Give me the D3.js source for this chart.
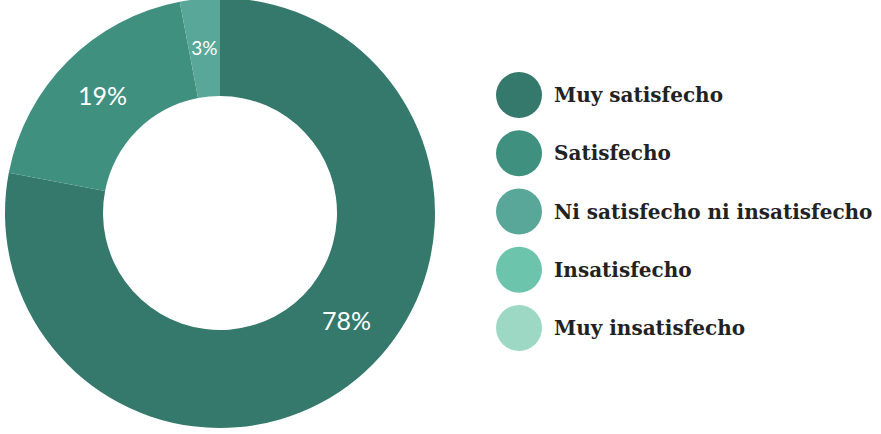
<!DOCTYPE html>
<html>
<head>
<meta charset="utf-8">
<script src="https://cdn.jsdelivr.net/npm/d3@7"></script>
<style>
  body { margin: 0; background: #fff; }
  .val-label { font-family: Lato, "Open Sans", sans-serif; fill: #fff; }
  .leg-label { font-family: "DejaVu Serif", serif; fill: #222; }
</style>
</head>
<body>
<script>
var categories = ['Muy satisfecho', 'Satisfecho', 'Ni satisfecho ni insatisfecho', 'Insatisfecho', 'Muy insatisfecho'];
var values = [78, 19, 3, 0, 0];
var colors = ['#34796b', '#40907f', '#58a798', '#6cc4ad', '#9dd8c5'];

var data = categories.map(function(c, i) {
  return {key: c, value: values[i], color: colors[i]};
});

var w = 881, h = 434;
var cx = 220, cy = 213;
var outerR = 215, innerR = 117;

var svg = d3.select("body").append("svg")
  .attr("width", w)
  .attr("height", h);

var pie = d3.pie()
  .sort(null)
  .value(function(d) { return d.value; });

var arc = d3.arc()
  .innerRadius(innerR)
  .outerRadius(outerR);

var g = svg.append("g")
  .attr("transform", "translate(" + cx + "," + cy + ")");

var slices = pie(data).filter(function(d) { return d.data.value > 0; });

g.selectAll("path")
  .data(slices)
  .enter()
  .append("path")
  .attr("d", arc)
  .attr("fill", function(d) { return d.data.color; });

// big slice: label sits a bit before the middle of the arc
g.selectAll(".val-label")
  .data(slices)
  .enter()
  .append("text")
  .classed("val-label", true)
  .attr("transform", function(d) {
    var a = d;
    if (d.endAngle - d.startAngle > Math.PI) {
      a = {startAngle: d.startAngle, endAngle: d.endAngle - 0.35};
    }
    return "translate(" + arc.centroid(a) + ")";
  })
  .attr("text-anchor", "middle")
  .attr("dy", "0.36em")
  .style("font-size", function(d) { return d.data.value < 5 ? "19px" : "25px"; })
  .text(function(d) { return d.data.value + "%"; });

var legY = d3.scaleBand()
  .domain(categories)
  .range([66, 357]);

var leg = svg.selectAll(".leg")
  .data(data)
  .enter()
  .append("g")
  .attr("class", "leg")
  .attr("transform", function(d) {
    return "translate(519," + (legY(d.key) + legY.bandwidth() / 2) + ")";
  });

leg.append("circle")
  .attr("r", 23)
  .attr("fill", function(d) { return d.color; });

leg.append("text")
  .classed("leg-label", true)
  .attr("x", 35)
  .attr("dy", "0.35em")
  .style("font-size", "20px")
  .style("font-weight", "bold")
  .text(function(d) { return d.key; });
</script>
</body>
</html>
